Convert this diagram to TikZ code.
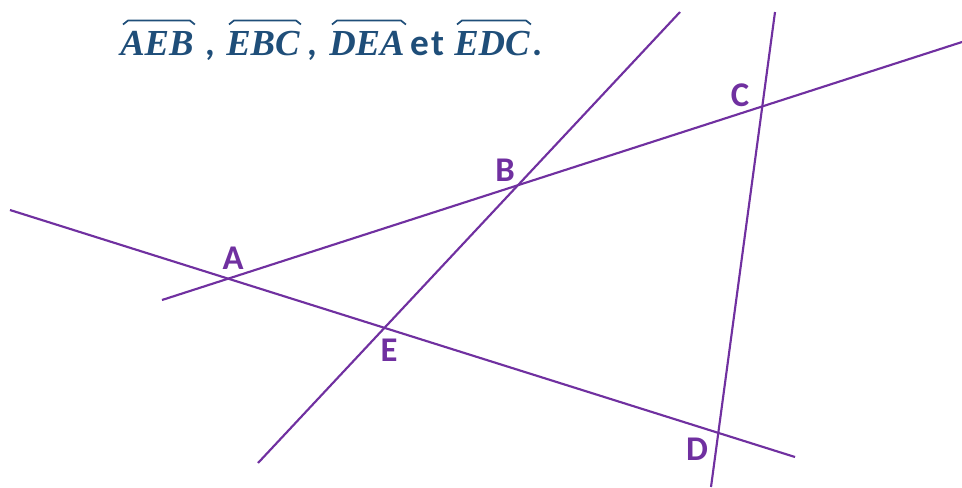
\documentclass[tikz,border=0pt]{standalone}
\usepackage{fontspec}
\setmainfont{Carlito}
\newfontfamily\angfont{Liberation Serif}
\usetikzlibrary{positioning}
\definecolor{violet7}{HTML}{7030A0}
\definecolor{titre}{HTML}{1F4E79}

\begin{document}
\begin{tikzpicture}[x=0.75pt,y=-0.75pt,
  droite/.style ={draw=violet7, line width=1.6pt},
  pt/.style     ={text=violet7, font=\bfseries\fontsize{26}{26}\selectfont, inner sep=0pt},
  ang/.style    ={text=titre, font=\angfont\bfseries\itshape\fontsize{27.5}{27.5}\selectfont, inner sep=0pt, anchor=base west},
  sep/.style    ={text=titre, font=\bfseries\fontsize{28}{28}\selectfont, inner sep=0pt, anchor=base west},
  chapeau/.style={draw=titre, line width=1.3pt}]

  \useasboundingbox (0,0) rectangle (962,487);

  % title : the four angles
  \node[ang] (aeb) at (120,55){AEB};
  \node[sep] (v1)  at (205,55){,};
  \node[ang] (ebc) at (226,55){EBC};
  \node[sep] (v2)  at (307,55){,};
  \node[ang] (dea) at (329,55){DEA};
  \node[sep] (et)  at (410,55){\addfontfeature{LetterSpace=6}et};
  \node[ang] (edc) at (454,55){EDC};
  \node[sep] (pt)  at (532,55){.};
  % hats over the angles
  \foreach \n in {aeb,ebc,dea,edc}{
    \draw[chapeau] ([shift={(3,-6)}]\n.north west) -- ([shift={(8,-10)}]\n.north west)
      -- ([shift={(-4,-10)}]\n.north east) -- ([shift={(1,-6)}]\n.north east);}

  % the four lines
  \coordinate (ac1) at (162,300); \coordinate (ac2) at (962,42);
  \coordinate (ad1) at (10,210);  \coordinate (ad2) at (795,457);
  \coordinate (be1) at (258,463); \coordinate (be2) at (680,12);
  \coordinate (cd1) at (775,12);  \coordinate (cd2) at (711,487);
  \draw[droite] (ac1) -- (ac2);
  \draw[droite] (ad1) -- (ad2);
  \draw[droite] (be1) -- (be2);
  \draw[droite] (cd1) -- (cd2);

  % points
  \node[pt] (A) at (233,258){A};
  \node[pt] (B) at (505,170){B};
  \node[pt] (C) at (740,95){C};
  \node[pt] (E) at (389,350){E};
  \node[pt] (D) at (697,449){D};
\end{tikzpicture}
\end{document}
